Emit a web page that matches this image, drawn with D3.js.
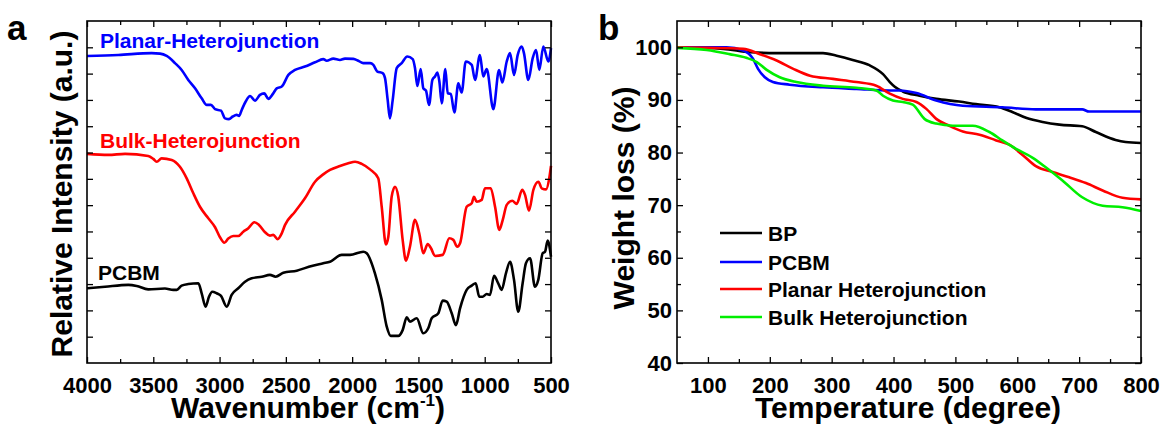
<!DOCTYPE html>
<html>
<head>
<meta charset="utf-8">
<script src="https://cdn.jsdelivr.net/npm/d3@7"></script>
<style>
  html, body { margin: 0; padding: 0; background: #fff; }
  svg { display: block; font-family: "Liberation Sans", Arial, Helvetica, sans-serif; font-weight: bold; }
</style>
</head>
<body>
<svg id="chart" width="1163" height="425"></svg>
<script>
// ---------- Panel a: FTIR spectra ----------
const ftirXTicks = [4000, 3500, 3000, 2500, 2000, 1500, 1000, 500];
const ftirLabels = ["Planar-Heterojunction", "Bulk-Heterojunction", "PCBM"];
const ftirColors = ["#0000ff", "#ff0000", "#000000"];

const planarWn  = [4000,3764,3512,3449,3399,3336,3286,3236,3185,3135,3097,3065,3034,2989,2959,2929,2901,2871,2853,2833,2803,2770,2733,2695,2663,2632,2595,2569,2531,2481,2431,2356,2280,2218,2192,2142,2092,2054,1991,1954,1916,1865,1840,1810,1770,1752,1732,1715,1694,1664,1626,1584,1543,1526,1508,1483,1463,1443,1420,1395,1375,1357,1342,1324,1297,1279,1256,1229,1199,1174,1143,1098,1073,1036,1011,985,935,892,867,834,809,779,751,721,704,671,638,613,588,558,520,500];
const planarInt = [11.67,11.71,11.78,11.76,11.67,11.40,11.14,10.76,10.44,10.06,9.81,9.81,9.65,9.59,9.30,9.27,9.37,9.43,9.39,9.62,9.94,10.15,9.97,10.19,10.25,10.04,10.25,10.44,10.51,10.95,11.14,11.27,11.43,11.55,11.49,11.57,11.52,11.57,11.56,11.49,11.40,11.40,11.33,11.08,11.02,10.83,10.00,9.30,10.00,11.21,11.40,11.65,11.55,11.21,10.53,11.17,10.44,10.35,9.81,10.76,10.89,11.04,10.70,9.87,11.17,10.25,10.23,9.52,10.63,10.28,11.46,11.33,10.76,11.71,10.89,11.17,9.65,11.14,10.66,11.46,11.78,10.95,11.71,12.03,11.78,10.76,11.59,11.90,11.14,12.03,11.46,11.97];

const bulkWn  = [4000,3839,3713,3538,3500,3474,3437,3361,3299,3248,3198,3148,3085,3034,2997,2964,2934,2896,2859,2821,2783,2738,2703,2657,2620,2595,2562,2531,2506,2431,2356,2280,2218,2167,2092,2029,1978,1928,1865,1803,1777,1745,1727,1702,1677,1652,1619,1594,1564,1526,1494,1463,1430,1405,1375,1317,1267,1237,1207,1186,1136,1098,1081,1061,1023,998,955,922,890,864,834,792,759,717,696,666,633,595,570,537,512,500];
const bulkInt = [7.95,7.91,7.95,7.87,7.76,7.65,7.78,7.72,7.46,7.02,6.45,5.94,5.50,5.16,4.78,4.57,4.73,4.83,4.83,4.99,5.12,5.35,5.25,4.97,4.84,4.87,4.71,4.93,5.25,5.75,6.26,6.89,7.17,7.34,7.49,7.59,7.65,7.57,7.36,7.02,5.94,4.51,4.80,6.32,6.70,6.32,4.68,3.89,4.42,5.44,4.93,4.17,4.52,4.36,4.07,4.11,4.74,4.68,4.42,4.55,5.94,6.07,6.32,6.13,6.20,6.64,6.64,5.94,5.06,5.44,6.01,6.17,6.05,6.58,6.39,5.79,6.58,6.89,6.64,6.60,7.06,7.49];

const pcbmWn  = [4000,3864,3688,3625,3538,3412,3349,3323,3286,3236,3160,3135,3105,3080,3055,3022,2989,2946,2909,2859,2808,2758,2682,2620,2577,2519,2418,2305,2218,2167,2079,2016,1916,1890,1828,1777,1739,1709,1652,1619,1588,1564,1513,1463,1426,1400,1350,1317,1287,1249,1217,1186,1136,1098,1068,1041,1016,985,960,930,898,872,840,809,779,747,714,689,658,621,596,563,545,525,500];
const pcbmInt = [2.84,2.90,2.97,2.93,2.80,2.83,2.78,2.78,2.94,3.00,3.03,2.65,2.14,2.52,2.71,2.65,2.55,2.14,2.59,2.84,3.09,3.22,3.28,3.35,3.28,3.43,3.51,3.69,3.79,3.85,4.11,4.11,4.23,4.17,3.41,2.40,1.38,1.03,1.03,1.25,1.74,1.57,1.70,1.13,1.32,1.70,1.89,2.37,2.33,1.89,1.44,2.08,2.78,2.94,3.03,2.52,2.52,2.62,2.59,3.31,3.03,2.78,3.41,3.85,3.16,1.95,3.03,3.79,3.98,2.90,3.16,4.17,4.23,4.65,4.04];

// ---------- Panel b: TGA ----------
const tgaXTicks = [100, 200, 300, 400, 500, 600, 700, 800];
const tgaYTicks = [40, 50, 60, 70, 80, 90, 100];
const tgaLabels = ["BP", "PCBM", "Planar Heterojunction", "Bulk Heterojunction"];
const tgaColors = ["#000000", "#0000ff", "#ff0000", "#00ee00"];

const bpTemp   = [50,125,168,211,286,308,334,361,383,394,402,415,442,469,506,533,571,592,614,641,668,705,727,759,775,800];
const bpWeight = [100,99.7,99.05,98.9,98.9,98.4,97.6,96.6,94.9,93.4,92.5,91.6,90.8,90.2,89.7,89.2,88.6,87.7,86.6,85.8,85.3,85.0,83.9,82.4,82.0,81.8];

const pcbmTemp   = [50,130,157,173,181,192,205,232,286,340,394,410,437,469,512,576,630,705,716,800];
const pcbmWeight = [100,100,99.4,97.8,95.9,94.3,93.4,92.9,92.4,92.1,91.8,91.8,91.3,89.9,88.9,88.6,88.2,88.2,87.8,87.8];

const planarTemp   = [50,157,184,211,238,265,302,340,372,394,415,437,453,469,490,512,539,566,587,609,630,657,684,711,738,770,800];
const planarWeight = [100,99.7,98.7,97.5,95.9,94.6,94.0,93.4,92.7,91.2,90.2,89.6,88.3,86.4,85.1,84.0,83.4,82.3,81.5,79.5,77.4,76.3,75.3,74.2,72.8,71.4,71.1];

const bulkTemp   = [50,98,135,162,179,195,216,243,286,340,372,383,399,415,431,450,469,496,528,555,576,598,625,646,673,705,738,770,800];
const bulkWeight = [99.9,99.5,98.7,98.0,97.2,95.7,94.3,93.4,92.7,92.3,91.8,90.8,89.9,89.6,89.1,86.4,85.5,85.1,85.1,83.9,82.3,80.7,79.0,77.2,74.7,71.5,69.9,69.6,68.9];

// ---------- drawing ----------
const svg = d3.select("#chart");
const FONT_TICK = 22, FONT_TITLE = 30;

function frame(g, x, y, majorX, minorX, majorY, minorY, showYLabels, yFormat) {
  const [x0, x1] = x.range(); const [y0, y1] = y.range();
  const w = Math.abs(x1 - x0), h = Math.abs(y0 - y1);
  const axes = g.append("g");
  axes.append("g").attr("transform", `translate(0,${y0})`)
    .call(d3.axisBottom(x).tickValues(majorX).tickSizeInner(-6).tickSizeOuter(0).tickPadding(14).tickFormat(d3.format("d")));
  axes.append("g").attr("transform", `translate(0,${y0})`)
    .call(d3.axisBottom(x).tickValues(minorX).tickSizeInner(-4).tickSizeOuter(0).tickFormat(""));
  axes.append("g").attr("transform", `translate(0,${y1})`)
    .call(d3.axisTop(x).tickValues(majorX).tickSizeInner(-6).tickSizeOuter(0).tickFormat(""));
  axes.append("g").attr("transform", `translate(0,${y1})`)
    .call(d3.axisTop(x).tickValues(minorX).tickSizeInner(-4).tickSizeOuter(0).tickFormat(""));
  axes.append("g").attr("transform", `translate(${x0},0)`)
    .call(d3.axisLeft(y).tickValues(majorY).tickSizeInner(-6).tickSizeOuter(0).tickPadding(5)
      .tickFormat(showYLabels ? yFormat : ""));
  axes.append("g").attr("transform", `translate(${x0},0)`)
    .call(d3.axisLeft(y).tickValues(minorY).tickSizeInner(-4).tickSizeOuter(0).tickFormat(""));
  axes.append("g").attr("transform", `translate(${x1},0)`)
    .call(d3.axisRight(y).tickValues(majorY).tickSizeInner(-6).tickSizeOuter(0).tickFormat(""));
  axes.append("g").attr("transform", `translate(${x1},0)`)
    .call(d3.axisRight(y).tickValues(minorY).tickSizeInner(-4).tickSizeOuter(0).tickFormat(""));
  axes.selectAll(".domain").remove();
  axes.selectAll("line").attr("stroke", "#000").attr("stroke-width", 1.3);
  axes.selectAll("text").attr("font-size", FONT_TICK).attr("font-weight", "bold")
    .attr("font-family", '"Liberation Sans", Arial, sans-serif').attr("fill", "#000");
  g.append("rect").attr("x", Math.min(x0, x1)).attr("y", Math.min(y0, y1))
    .attr("width", w).attr("height", h).attr("fill", "none").attr("stroke", "#000").attr("stroke-width", 1.6);
}

// Panel a
{
  const g = svg.append("g");
  const x = d3.scaleLinear().domain([4000, 500]).range([87, 551]);
  const y = d3.scaleLinear().domain([0, 13]).range([363, 21]);
  const minorX = d3.range(3750, 500, -500);
  const yt = d3.range(1, 13);
  const series = [[planarWn, planarInt], [bulkWn, bulkInt], [pcbmWn, pcbmInt]];
  const line = d3.line().x(d => x(d[0])).y(d => y(d[1])).curve(d3.curveMonotoneX);
  series.forEach((s, i) => {
    const pts = s[0].map((w, k) => [w, s[1][k]]);
    g.append("path").attr("d", line(pts)).attr("fill", "none")
      .attr("stroke", ftirColors[i]).attr("stroke-width", 2.6).attr("stroke-linejoin", "round");
  });
  frame(g, x, y, ftirXTicks, minorX, yt, [], false, null);

  const labelPos = [[100, 48], [100, 148], [98, 280]];
  ftirLabels.forEach((t, i) => {
    g.append("text").attr("x", labelPos[i][0]).attr("y", labelPos[i][1])
      .attr("fill", ftirColors[i]).attr("font-size", 21).text(t);
  });
  g.append("text").attr("transform", "translate(72,194) rotate(-90)").attr("text-anchor", "middle")
    .attr("font-size", FONT_TITLE).text("Relative Intensity (a.u.)");
  const xt = g.append("text").attr("x", 308).attr("y", 418).attr("text-anchor", "middle").attr("font-size", FONT_TITLE);
  xt.append("tspan").text("Wavenumber (cm");
  xt.append("tspan").attr("font-size", 17).attr("dy", -12).text("-1");
  xt.append("tspan").attr("dy", 12).text(")");
  g.append("text").attr("x", 7).attr("y", 40).attr("font-size", 35).text("a");
}

// Panel b
{
  const g = svg.append("g");
  const x = d3.scaleLinear().domain([50, 800]).range([677, 1141]);
  const y = d3.scaleLinear().domain([40, 105]).range([363, 21]);
  const minorX = d3.range(150, 800, 100);
  const minorY = d3.range(45, 105, 10);
  const series = [[bpTemp, bpWeight], [pcbmTemp, pcbmWeight], [planarTemp, planarWeight], [bulkTemp, bulkWeight]];
  const line = d3.line().x(d => x(d[0])).y(d => y(d[1])).curve(d3.curveMonotoneX);
  series.forEach((s, i) => {
    const pts = s[0].map((t, k) => [t, s[1][k]]);
    g.append("path").attr("d", line(pts)).attr("fill", "none")
      .attr("stroke", tgaColors[i]).attr("stroke-width", 2.6).attr("stroke-linejoin", "round");
  });
  frame(g, x, y, tgaXTicks, minorX, tgaYTicks, minorY, true, d3.format("d"));

  const rows = [233, 262, 289, 317];
  tgaLabels.forEach((t, i) => {
    g.append("line").attr("x1", 720).attr("x2", 762).attr("y1", rows[i]).attr("y2", rows[i])
      .attr("stroke", tgaColors[i]).attr("stroke-width", 2.6);
    g.append("text").attr("x", 768).attr("y", rows[i] + 7.5).attr("font-size", 21).attr("fill", "#000").text(t);
  });
  g.append("text").attr("transform", "translate(634,198) rotate(-90)").attr("text-anchor", "middle")
    .attr("font-size", FONT_TITLE).text("Weight loss (%)");
  g.append("text").attr("x", 908).attr("y", 418).attr("text-anchor", "middle")
    .attr("font-size", FONT_TITLE).text("Temperature (degree)");
  g.append("text").attr("x", 598).attr("y", 40).attr("font-size", 35).text("b");
}
</script>
</body>
</html>
